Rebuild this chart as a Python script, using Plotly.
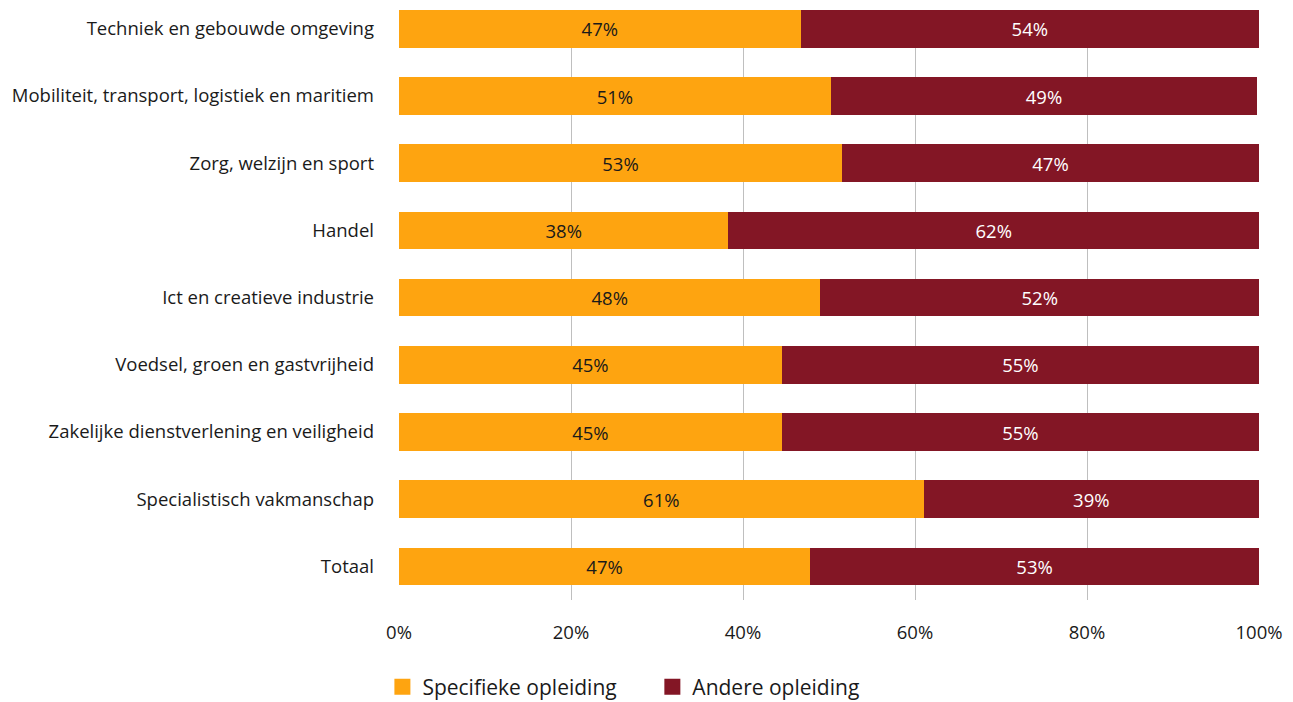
import plotly.graph_objects as go

categories = [
    "Techniek en gebouwde omgeving",
    "Mobiliteit, transport, logistiek en maritiem",
    "Zorg, welzijn en sport",
    "Handel",
    "Ict en creatieve industrie",
    "Voedsel, groen en gastvrijheid",
    "Zakelijke dienstverlening en veiligheid",
    "Specialistisch vakmanschap",
    "Totaal",
]
specifiek_values = [46.7, 50.2, 51.5, 38.3, 49.0, 44.5, 44.5, 61.0, 47.8]
andere_values = [53.3, 49.6, 48.5, 61.7, 51.0, 55.5, 55.5, 39.0, 52.2]
specifiek_labels = ["47%", "51%", "53%", "38%", "48%", "45%", "45%", "61%", "47%"]
andere_labels = ["54%", "49%", "47%", "62%", "52%", "55%", "55%", "39%", "53%"]
x_ticks = [0, 20, 40, 60, 80, 100]
x_ticktext = ["0%", "20%", "40%", "60%", "80%", "100%"]

ORANGE = "#FEA410"
RED = "#831625"
FONT = "Open Sans"
FS = 18.5

fig = go.Figure()
fig.add_trace(go.Bar(
    y=categories, x=specifiek_values, orientation="h",
    marker=dict(color=ORANGE, line=dict(width=0)),
    text=specifiek_labels, textposition="inside", insidetextanchor="middle",
    textfont=dict(color="#1a1a1a", size=FS, family=FONT),
    name="Specifieke opleiding", showlegend=False, hoverinfo="skip",
))
fig.add_trace(go.Bar(
    y=categories, x=andere_values, orientation="h",
    marker=dict(color=RED, line=dict(width=0)),
    text=andere_labels, textposition="inside", insidetextanchor="middle",
    textfont=dict(color="#ffffff", size=FS, family=FONT),
    name="Andere opleiding", showlegend=False, hoverinfo="skip",
))
# legend entries with larger square markers, one legend each for exact spacing
for name, col, lg in [("Specifieke opleiding", ORANGE, "legend"),
                      ("Andere opleiding", RED, "legend2")]:
    fig.add_trace(go.Scatter(
        x=[None], y=[None], mode="markers", name=name, legend=lg,
        marker=dict(symbol="square", size=18, color=col),
    ))

legend_common = dict(orientation="h", yanchor="middle", y=-0.1475, xanchor="left",
                     font=dict(size=21, family=FONT, color="#1a1a1a"),
                     bgcolor="rgba(0,0,0,0)")

fig.update_layout(
    barmode="stack",
    bargap=0.44,
    width=1285, height=694,
    margin=dict(l=391, r=34, t=2, b=102, autoexpand=False),
    paper_bgcolor="white", plot_bgcolor="white",
    font=dict(family=FONT, size=FS, color="#1a1a1a"),
    legend=dict(x=-0.0193, **legend_common),
    legend2=dict(x=0.2946, **legend_common),
    uniformtext=dict(mode="show", minsize=10),
)
fig.update_xaxes(
    range=[0, 100], tickvals=x_ticks, ticktext=x_ticktext,
    showgrid=True, gridcolor="#bfbfbf", gridwidth=1.3,
    zeroline=False, showline=False, ticks="",
    tickfont=dict(size=FS, family=FONT, color="#1a1a1a"),
    ticklabelstandoff=19,
)
fig.update_yaxes(
    categoryorder="array", categoryarray=categories,
    range=[8.5, -0.28], showgrid=False, zeroline=False, showline=False, ticks="",
    tickfont=dict(size=FS, family=FONT, color="#1a1a1a"),
    ticklabelstandoff=24,
)
fig.write_html("out.html")
